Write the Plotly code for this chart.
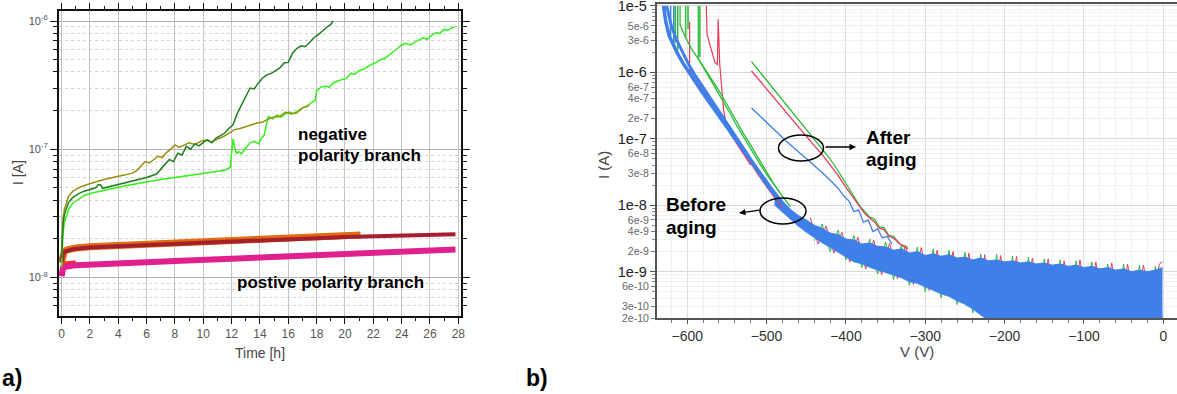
import plotly.graph_objects as go

W, H = 1177, 394
FONT = "Liberation Sans, Arial, sans-serif"

# ---------------- Panel a) data ----------------
olive_t = [0.0, 0.05, 0.1, 0.2, 0.35, 0.5, 0.8, 1.2, 1.6, 2.0, 2.5, 3.0, 3.5, 4.0, 4.5, 5.0, 5.3, 5.6,
           5.9, 6.2, 6.5, 6.8, 7.1, 7.4, 7.7, 8.0, 8.3, 8.6, 9.0, 9.4, 9.8, 10.2, 10.6, 11.0, 11.4, 11.8,
           12.2, 12.6, 13.0, 13.4, 13.8, 14.2, 14.6, 15.0, 15.4, 15.8, 16.2, 16.6, 17.0, 17.5]
olive_i = [1.6e-8, 2.4e-8, 2.9e-8, 3.4e-8, 3.9e-8, 4.3e-8, 4.7e-8, 5.0e-8, 5.2e-8, 5.4e-8, 5.6e-8, 5.8e-8,
           6.0e-8, 6.15e-8, 6.3e-8, 6.5e-8, 6.8e-8, 7.4e-8, 8.0e-8, 7.8e-8, 8.3e-8, 8.8e-8, 8.6e-8, 9.4e-8,
           1.0e-7, 1.08e-7, 1.03e-7, 1.07e-7, 1.12e-7, 1.09e-7, 1.15e-7, 1.18e-7, 1.14e-7, 1.2e-7, 1.25e-7,
           1.33e-7, 1.42e-7, 1.45e-7, 1.5e-7, 1.55e-7, 1.6e-7, 1.63e-7, 1.72e-7, 1.78e-7, 1.8e-7, 1.95e-7,
           1.88e-7, 1.92e-7, 2.1e-7, 2.2e-7]

dgreen_t = [0.0, 0.05, 0.1, 0.2, 0.35, 0.5, 0.8, 1.2, 1.6, 2.0, 2.4, 2.6, 2.75, 2.9, 3.5, 4.0, 5.0, 6.0,
            6.7, 7.0, 7.3, 7.6, 7.9, 8.2, 8.5, 8.8, 9.1, 9.4, 9.7, 10.0, 10.3, 10.6, 10.9, 11.2, 11.5,
            11.8, 12.1, 12.4, 12.7, 13.0, 13.3, 13.6, 13.9, 14.2, 14.5, 14.8, 15.1, 15.4, 15.7, 16.0,
            16.3, 16.6, 16.9, 17.2, 17.5, 17.8, 18.1, 18.4, 18.7, 19.0, 19.15]
dgreen_i = [1.4e-8, 2.1e-8, 2.6e-8, 3.1e-8, 3.5e-8, 3.85e-8, 4.2e-8, 4.5e-8, 4.7e-8, 4.85e-8, 5.0e-8,
            5.3e-8, 5.25e-8, 4.95e-8, 5.15e-8, 5.3e-8, 5.65e-8, 6.0e-8, 6.4e-8, 7.0e-8, 7.6e-8, 8.3e-8,
            8.0e-8, 9.3e-8, 9.0e-8, 1.05e-7, 1.0e-7, 1.1e-7, 1.06e-7, 1.13e-7, 1.18e-7, 1.12e-7, 1.22e-7,
            1.28e-7, 1.33e-7, 1.45e-7, 1.55e-7, 1.9e-7, 2.2e-7, 2.6e-7, 3.0e-7, 2.95e-7, 3.3e-7, 3.6e-7,
            3.8e-7, 3.9e-7, 4.1e-7, 4.3e-7, 4.7e-7, 4.75e-7, 5.6e-7, 6.1e-7, 6.4e-7, 6.3e-7, 6.8e-7,
            7.4e-7, 7.8e-7, 8.4e-7, 8.9e-7, 9.4e-7, 1.0e-6]

lgreen_t = [0.0, 0.05, 0.1, 0.2, 0.35, 0.5, 0.8, 1.2, 1.6, 2.0, 3.0, 4.0, 5.0, 6.0, 7.0, 8.0, 9.0, 10.0,
            10.5, 11.0, 11.5, 11.9, 12.0, 12.1, 12.2, 12.35, 12.5, 12.7, 13.0, 13.3, 13.6, 13.9, 14.1,
            14.3, 14.45, 14.6, 14.9, 15.2, 15.5, 15.8, 16.1, 16.4, 16.7, 17.0, 17.3, 17.6, 17.9, 18.0,
            18.3, 18.6, 18.9, 19.2, 19.5, 19.8, 20.1, 20.4, 20.7, 21.0, 21.3, 21.6, 21.9, 22.2, 22.5,
            22.8, 23.1, 23.4, 23.7, 24.0, 24.3, 24.6, 24.9, 25.2, 25.5, 25.8, 26.1, 26.4, 26.7, 27.0,
            27.3, 27.6, 27.8]
lgreen_i = [1.2e-8, 1.8e-8, 2.2e-8, 2.7e-8, 3.1e-8, 3.4e-8, 3.8e-8, 4.1e-8, 4.35e-8, 4.5e-8, 4.8e-8,
            5.05e-8, 5.3e-8, 5.55e-8, 5.8e-8, 6.0e-8, 6.25e-8, 6.5e-8, 6.6e-8, 6.75e-8, 6.85e-8, 7.2e-8,
            9.0e-8, 1.2e-7, 1.05e-7, 9.2e-8, 9.6e-8, 9.2e-8, 1.02e-7, 1.12e-7, 1.15e-7, 1.1e-7, 1.22e-7,
            1.28e-7, 1.55e-7, 1.8e-7, 1.72e-7, 1.85e-7, 1.78e-7, 1.88e-7, 1.95e-7, 1.9e-7, 2.0e-7, 2.1e-7,
            2.15e-7, 2.3e-7, 2.4e-7, 2.85e-7, 3.05e-7, 3.1e-7, 3.05e-7, 3.3e-7, 3.4e-7, 3.5e-7, 3.55e-7,
            3.9e-7, 3.85e-7, 4.1e-7, 4.2e-7, 4.4e-7, 4.6e-7, 4.75e-7, 5.0e-7, 5.1e-7, 5.4e-7, 5.7e-7,
            6.1e-7, 6.5e-7, 6.7e-7, 6.5e-7, 6.75e-7, 7.1e-7, 7.4e-7, 7.2e-7, 7.7e-7, 8.1e-7, 8.0e-7,
            8.6e-7, 8.5e-7, 8.9e-7, 9.0e-7]

orange_t = [0, 0.05, 0.1, 0.2, 0.4, 0.7, 1, 2, 4, 6, 8, 10, 12, 14, 16, 18, 20, 21.1]
orange_i = [1.32e-8, 1.47e-8, 1.55e-8, 1.6e-8, 1.64e-8, 1.67e-8, 1.69e-8, 1.73e-8, 1.77e-8, 1.81e-8,
            1.85e-8, 1.89e-8, 1.93e-8, 1.97e-8, 2.01e-8, 2.05e-8, 2.1e-8, 2.14e-8]
dred_t = [0, 0.05, 0.1, 0.2, 0.4, 0.7, 1, 2, 4, 6, 8, 10, 12, 14, 16, 18, 20, 22, 24, 26, 27.8]
dred_i = [1.3e-8, 1.45e-8, 1.53e-8, 1.58e-8, 1.62e-8, 1.65e-8, 1.67e-8, 1.71e-8, 1.75e-8, 1.79e-8,
          1.83e-8, 1.87e-8, 1.91e-8, 1.95e-8, 1.99e-8, 2.02e-8, 2.06e-8, 2.09e-8, 2.12e-8, 2.15e-8, 2.17e-8]
pink_t = [0, 0.05, 0.1, 0.2, 0.4, 0.7, 1, 2, 4, 6, 8, 10, 12, 14, 16, 18, 20, 22, 24, 26, 27.8]
pink_i = [1.02e-8, 1.12e-8, 1.17e-8, 1.2e-8, 1.22e-8, 1.23e-8, 1.24e-8, 1.26e-8, 1.28e-8, 1.31e-8,
          1.34e-8, 1.37e-8, 1.4e-8, 1.43e-8, 1.46e-8, 1.5e-8, 1.53e-8, 1.56e-8, 1.59e-8, 1.62e-8, 1.65e-8]
red_t = [0, 0.05, 0.1, 0.3, 0.6, 1.0]
red_i = [1.05e-8, 1.17e-8, 1.23e-8, 1.27e-8, 1.29e-8, 1.3e-8]

a_xticks = list(range(0, 29, 2))
a_yticks = [1e-8, 1e-7, 1e-6]
a_yticktext = ["10<sup>-8</sup>", "10<sup>-7</sup>", "10<sup>-6</sup>"]
a_yminor = [6e-9, 7e-9, 8e-9, 9e-9, 2e-8, 3e-8, 4e-8, 5e-8, 6e-8, 7e-8, 8e-8, 9e-8,
            2e-7, 3e-7, 4e-7, 5e-7, 6e-7, 7e-7, 8e-7, 9e-7]

# ---------------- Panel b) data ----------------
blue_b1_v = [-630, -627, -623, -618, -612, -605, -598, -590, -582, -574, -566, -558, -550, -542, -534,
             -526, -518, -510, -502, -494, -486, -478, -470, -462, -454, -446]
blue_b1_i = [1e-5, 5.8e-6, 3.6e-6, 2.6e-6, 1.9e-6, 1.35e-6, 1.0e-6, 7.2e-7, 5.2e-7, 3.8e-7, 2.8e-7,
             2.05e-7, 1.5e-7, 1.1e-7, 8.2e-8, 6.0e-8, 4.4e-8, 3.2e-8, 2.25e-8, 1.65e-8, 1.25e-8, 9.6e-9,
             7.5e-9, 6.0e-9, 4.9e-9, 4.0e-9]
blue_b2_v = [-626, -620, -614, -606, -598, -590, -580, -570, -560, -550, -540, -530, -520, -510, -500,
             -490, -480, -470, -460]
blue_b2_i = [1e-5, 5.0e-6, 3.2e-6, 2.0e-6, 1.3e-6, 9.0e-7, 5.9e-7, 3.9e-7, 2.6e-7, 1.7e-7, 1.12e-7,
             7.4e-8, 4.9e-8, 3.3e-8, 2.25e-8, 1.55e-8, 1.1e-8, 8.2e-9, 6.4e-9]
blue_sp_v = [-628, -628, None, -621, -621, None, -617, -617]
blue_sp_i = [1e-5, 5.5e-6, None, 1e-5, 3.5e-6, None, 1e-5, 2.8e-6]

green_b1_v = [-609, -609, -602, -594, -586, -578, -570, -562, -554, -546, -538, -530, -520, -510, -500,
              -490, -480, -470]
green_b1_i = [1e-5, 5.2e-6, 3.3e-6, 2.2e-6, 1.6e-6, 1.15e-6, 8.2e-7, 5.8e-7, 4.0e-7, 2.7e-7, 1.8e-7,
              1.25e-7, 8.0e-8, 5.0e-8, 3.1e-8, 2.0e-8, 1.35e-8, 9.5e-9]
green_b2_v = [-586, -586, -578, -570, -562, -554, -546, -538, -530, -520, -510, -500, -490, -484]
green_b2_i = [1e-5, 1.6e-6, 1.1e-6, 7.6e-7, 5.2e-7, 3.5e-7, 2.4e-7, 1.6e-7, 1.1e-7, 7.0e-8, 4.5e-8,
              2.9e-8, 2.0e-8, 1.6e-8]
green_sp_v = [-615, -615, None, -612, -612, None, -602, -602, None, -584, -584, None, -599, -599]
green_sp_i = [1e-5, 2.8e-6, None, 1e-5, 2.2e-6, None, 1e-5, 3.3e-6, None, 1e-5, 1.7e-6, None, 1e-5, 4.5e-6]

red_b1_v = [-597, -597, -590, -580, -570, -560, -550, -540, -530, -520, -510, -500, -490, -480]
red_b1_i = [5.8e-6, 1.1e-6, 8.0e-7, 5.3e-7, 3.5e-7, 2.3e-7, 1.5e-7, 1.0e-7, 6.6e-8, 4.3e-8, 2.8e-8,
            1.9e-8, 1.3e-8, 9.2e-9]
red_b2_v = [-576, -575, -565, -562, -561, -559, -554, -550, -545, -538, -530, -520]
red_b2_i = [1e-5, 3.7e-6, 1.4e-6, 1.3e-6, 6.3e-6, 1.3e-6, 2.6e-7, 1.5e-7, 1.15e-7, 8.5e-8, 6.0e-8, 4.0e-8]

band_v = [-490, -480, -470, -460, -450, -440, -430, -420, -410, -400, -390, -380, -370, -360, -350,
          -340, -330, -320, -310, -300, -290, -280, -270, -260, -250, -240, -230, -220, -210, -200,
          -190, -180, -170, -160, -150, -140, -130, -120, -110, -100, -90, -80, -70, -60, -50, -40,
          -30, -20, -10, -1]
band_hi = [1.35e-8, 1.05e-8, 8.6e-9, 7.0e-9, 6.0e-9, 5.0e-9, 4.5e-9, 3.8e-9, 3.6e-9, 3.1e-9, 3.0e-9,
           2.6e-9, 2.7e-9, 2.4e-9, 2.35e-9, 2.1e-9, 2.2e-9, 1.9e-9, 2.0e-9, 1.75e-9, 1.85e-9, 1.7e-9,
           1.8e-9, 1.6e-9, 1.65e-9, 1.5e-9, 1.6e-9, 1.45e-9, 1.5e-9, 1.4e-9, 1.45e-9, 1.35e-9, 1.4e-9,
           1.3e-9, 1.35e-9, 1.25e-9, 1.3e-9, 1.2e-9, 1.25e-9, 1.15e-9, 1.2e-9, 1.1e-9, 1.15e-9, 1.05e-9,
           1.1e-9, 1.0e-9, 1.05e-9, 1.0e-9, 1.05e-9, 1.15e-9]
band_lo = [1.0e-8, 7.8e-9, 6.2e-9, 4.8e-9, 3.9e-9, 3.2e-9, 2.7e-9, 2.3e-9, 1.95e-9, 1.7e-9, 1.4e-9,
           1.3e-9, 1.15e-9, 1.05e-9, 9.5e-10, 8.8e-10, 8.0e-10, 7.0e-10, 6.6e-10, 5.8e-10, 5.2e-10,
           4.6e-10, 4.2e-10, 3.6e-10, 3.2e-10, 2.7e-10, 2.2e-10, 1.8e-10, 1e-10, 1e-10, 1e-10, 1e-10,
           1e-10, 1e-10, 1e-10, 1e-10, 1e-10, 1e-10, 1e-10, 1e-10, 1e-10, 1e-10, 1e-10, 1e-10, 1e-10,
           1e-10, 1e-10, 1e-10, 1e-10, 1e-10]

red_n_v = [-445, -435, -425, -415, -405, -395, -385, -375, -365, -355, -345, -335, -325, -315, -305,
           -295, -285, -275, -265, -255, -245, -235, -225, -215, -205, -195, -185, -175, -165, -155,
           -145, -135, -125, -115, -105, -95, -85, -75, -65, -55, -45, -35, -25, -15, -5, -1]
red_n_i = [6.5e-9, 2.6e-9, 4.8e-9, 1.9e-9, 3.9e-9, 1.4e-9, 3.3e-9, 1.1e-9, 3.0e-9, 9.0e-10, 2.7e-9,
           7.8e-10, 2.5e-9, 6.4e-10, 2.3e-9, 5.2e-10, 2.1e-9, 4.4e-10, 2.0e-9, 3.6e-10, 1.9e-9, 2.6e-10,
           1.8e-9, 1.9e-10, 1.75e-9, 3.0e-10, 1.7e-9, 2.5e-10, 1.6e-9, 3.0e-10, 1.55e-9, 2.2e-10,
           1.45e-9, 2.6e-10, 1.5e-9, 2.4e-10, 1.4e-9, 2.8e-10, 1.35e-9, 2.2e-10, 1.3e-9, 2.5e-10,
           1.25e-9, 3.0e-10, 1.3e-9, 1.4e-9]
green_n_v = [-440, -430, -420, -410, -400, -390, -380, -370, -360, -350, -340, -330, -320, -310, -300,
             -290, -280, -270, -260, -250, -240, -230, -220, -210, -200, -190, -180, -170, -160, -150,
             -140, -130, -120, -110, -100, -90, -80, -70, -60, -50, -40, -30, -20, -10, 0]
green_n_i = [2.9e-9, 5.2e-9, 2.0e-9, 4.2e-9, 1.5e-9, 3.5e-9, 1.15e-9, 3.1e-9, 9.2e-10, 2.8e-9, 7.6e-10,
             2.6e-9, 6.2e-10, 2.35e-9, 5.0e-10, 2.2e-9, 4.0e-10, 2.1e-9, 3.2e-10, 1.95e-9, 2.4e-10,
             1.85e-9, 1.6e-10, 1.8e-9, 1.5e-10, 1.7e-9, 1.5e-10, 1.65e-9, 1.5e-10, 1.55e-9, 1.5e-10,
             1.5e-9, 1.5e-10, 1.45e-9, 1.5e-10, 1.4e-9, 1.5e-10, 1.3e-9, 1.5e-10, 1.3e-9, 1.5e-10,
             1.25e-9, 1.5e-10, 1.2e-9, 1.5e-10]

green_a_v = [-519, -500, -480, -460, -440, -430, -420, -410, -400, -390, -382, -376, -370, -364, -358,
             -352, -346, -340, -332, -322]
green_a_i = [1.45e-6, 7.6e-7, 3.9e-7, 2.0e-7, 1.02e-7, 7.3e-8, 5.0e-8, 3.3e-8, 2.1e-8, 1.35e-8,
             9.5e-9, 8.0e-9, 6.6e-9, 6.2e-9, 4.7e-9, 4.6e-9, 3.5e-9, 3.4e-9, 2.6e-9, 2.3e-9]
red_a_v = [-519, -500, -480, -460, -440, -430, -420, -410, -400, -390, -382, -376, -370, -364, -358,
           -352, -346, -340, -332, -322]
red_a_i = [1.05e-6, 5.6e-7, 2.9e-7, 1.5e-7, 7.9e-8, 5.8e-8, 4.1e-8, 2.8e-8, 1.85e-8, 1.25e-8,
           9.0e-9, 7.4e-9, 6.4e-9, 5.6e-9, 4.5e-9, 4.3e-9, 3.4e-9, 3.2e-9, 2.6e-9, 2.2e-9]
blue_a_v = [-519, -505, -490, -475, -460, -445, -430, -420, -410, -402, -396, -390, -384, -378, -372,
            -366, -360, -354, -348, -342]
blue_a_i = [2.9e-7, 2.0e-7, 1.35e-7, 9.2e-8, 6.4e-8, 4.5e-8, 3.1e-8, 2.4e-8, 1.8e-8, 1.35e-8, 1.15e-8,
            8.0e-9, 8.5e-9, 5.5e-9, 6.0e-9, 4.0e-9, 4.4e-9, 3.2e-9, 3.4e-9, 2.6e-9]

b_xticks = [-600, -500, -400, -300, -200, -100, 0]
b_ybig = [1e-5, 1e-6, 1e-7, 1e-8, 1e-9]
b_ybig_text = ["1e-5", "1e-6", "1e-7", "1e-8", "1e-9"]
b_ysmall = [5e-6, 3e-6, 6e-7, 4e-7, 2e-7, 6e-8, 3e-8, 6e-9, 4e-9, 2e-9, 6e-10, 3e-10, 2e-10]
b_ysmall_text = ["5e-6", "3e-6", "6e-7", "4e-7", "2e-7", "6e-8", "3e-8", "6e-9", "4e-9", "2e-9",
                 "6e-10", "3e-10", "2e-10"]
b_yminor = [9e-6, 8e-6, 7e-6, 6e-6, 4e-6, 2e-6, 9e-7, 8e-7, 7e-7, 5e-7, 3e-7, 9e-8, 8e-8, 7e-8, 5e-8,
            4e-8, 2e-8, 9e-9, 8e-9, 7e-9, 5e-9, 3e-9, 9e-10, 8e-10, 7e-10, 5e-10, 4e-10]

# ---------------- colours ----------------
C_OLIVE, C_DGREEN, C_LGREEN = "#9a8d12", "#1f7f1f", "#33f21a"
C_ORANGE, C_DRED, C_PINK, C_RED = "#e26a10", "#a3202c", "#e0208c", "#ff2a2a"
C_BLUE, C_BRED, C_BGREEN = "#3f7fe8", "#e83c5a", "#2fbb3a"

fig = go.Figure()

def add_a(x, y, color, width):
    fig.add_trace(go.Scatter(x=x, y=y, mode="lines", line=dict(color=color, width=width),
                             xaxis="x", yaxis="y", showlegend=False, hoverinfo="skip"))

add_a(orange_t, orange_i, C_ORANGE, 7)
add_a(dred_t, dred_i, C_DRED, 4)
add_a(red_t, red_i, C_RED, 5)
add_a(pink_t, pink_i, C_PINK, 6)
add_a(lgreen_t, lgreen_i, C_LGREEN, 1.5)
add_a(olive_t, olive_i, C_OLIVE, 1.5)
add_a(dgreen_t, dgreen_i, C_DGREEN, 1.5)

def add_b(x, y, color, width, **kw):
    fig.add_trace(go.Scatter(x=x, y=y, mode="lines", line=dict(color=color, width=width),
                             xaxis="x2", yaxis="y2", showlegend=False, hoverinfo="skip",
                             connectgaps=False, **kw))

add_b(red_n_v, red_n_i, C_BRED, 1)
add_b(green_n_v, green_n_i, C_BGREEN, 1)
add_b(band_v, band_lo, C_BLUE, 0.5)
add_b(band_v, band_hi, C_BLUE, 1, fill="tonexty", fillcolor=C_BLUE)
add_b(green_sp_v, green_sp_i, C_BGREEN, 1.5)
add_b(red_b2_v, red_b2_i, C_BRED, 1.2)
add_b(red_b1_v, red_b1_i, C_BRED, 1.2)
add_b(green_b1_v, green_b1_i, C_BGREEN, 1.3)
add_b(green_b2_v, green_b2_i, C_BGREEN, 1.3)
add_b(blue_sp_v, blue_sp_i, C_BLUE, 1.5)
add_b(blue_b2_v, blue_b2_i, C_BLUE, 3)
add_b(blue_b1_v, blue_b1_i, C_BLUE, 3.5)
add_b(green_a_v, green_a_i, C_BGREEN, 1.3)
add_b(red_a_v, red_a_i, C_BRED, 1.3)
add_b(blue_a_v, blue_a_i, C_BLUE, 1.3)
fig.add_trace(go.Scatter(x=[], y=[], xaxis="x2", yaxis="y3", showlegend=False))

def px(x):
    return x / W

def py(y):
    return 1 - y / H

B_YRANGE = [-9.699, -4.975]

fig.update_layout(
    width=W, height=H, autosize=False,
    margin=dict(l=0, r=0, t=0, b=0, autoexpand=False),
    paper_bgcolor="white", plot_bgcolor="white",
    font=dict(family=FONT, color="#444"),
    xaxis=dict(domain=[px(58.7), px(461)], range=[-0.205, 28.19], tickvals=a_xticks, automargin=False,
               showgrid=True, gridcolor="#c4c4c4", gridwidth=1, zeroline=False,
               showline=True, linecolor="#111", linewidth=1.5, mirror="allticks",
               ticks="outside", ticklen=6, tickcolor="#111",
               minor=dict(dtick=1, ticks="outside", ticklen=3, tickcolor="#111", showgrid=False),
               tickfont=dict(size=12, color="#555"), anchor="y"),
    yaxis=dict(domain=[py(316), py(11)], type="log", range=[-8.302, -5.922], automargin=False,
               tickvals=a_yticks, ticktext=a_yticktext,
               showgrid=True, gridcolor="#b0b0b0", gridwidth=1, zeroline=False,
               showline=True, linecolor="#111", linewidth=1.5, mirror="allticks",
               ticks="outside", ticklen=7, tickcolor="#111",
               minor=dict(tickvals=a_yminor, ticks="outside", ticklen=4, tickcolor="#111",
                          showgrid=True, gridcolor="#d2d2d2", griddash="dot", gridwidth=1),
               tickfont=dict(size=11, color="#555"), anchor="x"),
    xaxis2=dict(domain=[px(656.7), 1.0], range=[-638.5, 17.3], tickvals=b_xticks, automargin=False,
                showgrid=True, gridcolor="#dedede", zeroline=False,
                showline=True, linecolor="#555", linewidth=1.5, mirror=True,
                ticks="outside", ticklen=4, tickcolor="#555",
                minor=dict(dtick=20, ticks="outside", ticklen=3, tickcolor="#777",
                           showgrid=True, gridcolor="#f0f0f0"),
                tickfont=dict(size=14, color="#333"), anchor="y2"),
    yaxis2=dict(domain=[py(318), py(4.3)], type="log", range=B_YRANGE, automargin=False,
                tickvals=b_ysmall, ticktext=b_ysmall_text,
                showgrid=True, gridcolor="#eeeeee", zeroline=False,
                showline=True, linecolor="#555", linewidth=1.5,
                ticks="outside", ticklen=4, tickcolor="#777",
                minor=dict(tickvals=b_yminor, ticks="outside", ticklen=3, tickcolor="#888",
                           showgrid=True, gridcolor="#f3f3f3"),
                tickfont=dict(size=10.5, color="#666"), anchor="x2"),
    yaxis3=dict(overlaying="y2", anchor="x2", side="left", type="log", range=B_YRANGE,
                tickvals=b_ybig, ticktext=b_ybig_text, ticklabeloverflow="allow", automargin=False,
                showgrid=True, gridcolor="#d8d8d8", zeroline=False, showline=False,
                ticks="outside", ticklen=6, tickcolor="#555",
                tickfont=dict(size=14.5, color="#222")),
)

ann = []
def text(x, y, s, size, bold=True, color="#000", xanchor="left", angle=0):
    ann.append(dict(x=px(x), y=py(y), xref="paper", yref="paper", text=(f"<b>{s}</b>" if bold else s),
                    showarrow=False, xanchor=xanchor, yanchor="middle", textangle=angle,
                    font=dict(family=FONT, size=size, color=color)))

text(296, 134, "negative", 17)
text(296, 155, "polarity branch", 17)
text(235, 282, "postive polarity branch", 17)
text(0, 378, "a)", 23)
text(524, 378, "b)", 23)
text(864, 137, "After", 19)
text(864, 159, "aging", 19)
text(664, 205, "Before", 19)
text(664, 228, "aging", 19)
text(260, 353, "Time [h]", 14, bold=False, color="#444", xanchor="center")
text(18, 173, "I [A]", 14, bold=False, color="#444", xanchor="center", angle=-90)
text(917, 351, "V (V)", 15, bold=False, color="#444", xanchor="center")
text(603, 165, "I (A)", 15, bold=False, color="#444", xanchor="center", angle=-90)

ann.append(dict(x=px(856), y=py(147), xref="paper", yref="paper", ax=-32, ay=0,
                axref="pixel", ayref="pixel", text="", showarrow=True, arrowhead=2,
                arrowsize=1, arrowwidth=1.3, arrowcolor="#000"))
ann.append(dict(x=px(739), y=py(213), xref="paper", yref="paper", ax=22, ay=-3,
                axref="pixel", ayref="pixel", text="", showarrow=True, arrowhead=2,
                arrowsize=1, arrowwidth=1.3, arrowcolor="#000"))
fig.update_layout(annotations=ann)

fig.update_layout(shapes=[
    dict(type="circle", xref="paper", yref="paper", x0=px(778.5), x1=px(823.5), y0=py(161), y1=py(135),
         line=dict(color="#000", width=1.5)),
    dict(type="circle", xref="paper", yref="paper", x0=px(760), x1=px(806), y0=py(224), y1=py(198),
         line=dict(color="#000", width=1.5)),
])

fig.write_html("out.html")
